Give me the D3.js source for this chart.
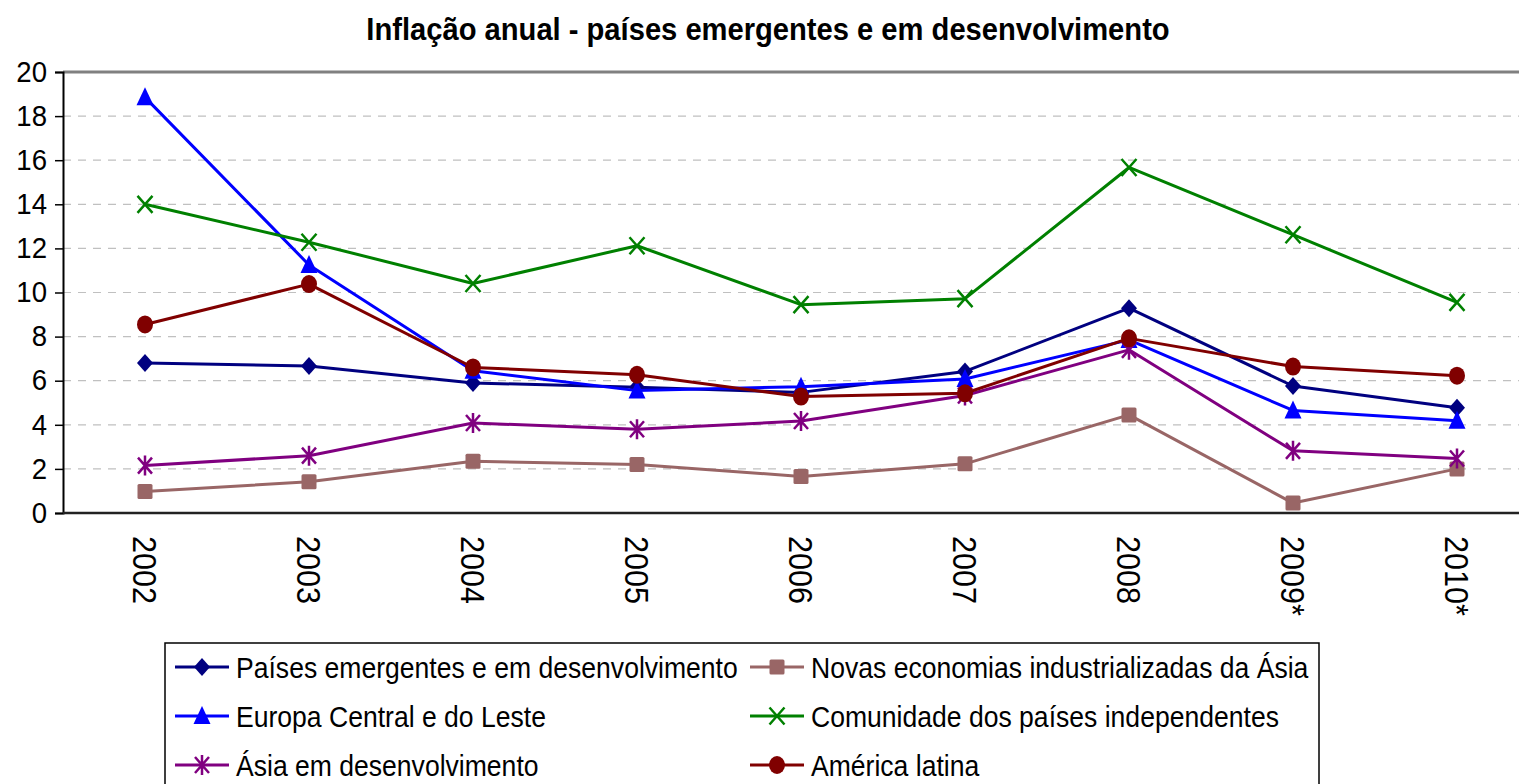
<!DOCTYPE html>
<html>
<head>
<meta charset="utf-8">
<script src="https://cdn.jsdelivr.net/npm/d3@7"></script>
<style>
  body { margin: 0; background: #fff; }
  text { font-family: "Liberation Sans", Arial, sans-serif; fill: #000; }
</style>
</head>
<body>
<svg id="chart" width="1519" height="784"></svg>
<script>
// data
var years = ['2002', '2003', '2004', '2005', '2006', '2007', '2008', '2009*', '2010*'];
var yTicks = [0, 2, 4, 6, 8, 10, 12, 14, 16, 18, 20];

var paisesEmergentes = [6.8, 6.67, 5.9, 5.7, 5.47, 6.42, 9.29, 5.76, 4.77];
var novasEconomias   = [0.97, 1.42, 2.35, 2.2, 1.66, 2.23, 4.45, 0.45, 2.0];
var europaCentral    = [18.85, 11.25, 6.45, 5.55, 5.73, 6.08, 7.85, 4.65, 4.18];
var comunidade       = [14.0, 12.28, 10.41, 12.12, 9.45, 9.72, 15.67, 12.62, 9.55];
var asiaDesenv       = [2.15, 2.6, 4.08, 3.8, 4.17, 5.33, 7.4, 2.82, 2.47];
var americaLatina    = [8.55, 10.38, 6.6, 6.27, 5.28, 5.43, 7.92, 6.64, 6.23];

var series = [
  {name: 'Países emergentes e em desenvolvimento', values: paisesEmergentes, color: '#000080', marker: 'diamond'},
  {name: 'Novas economias industrializadas da Ásia', values: novasEconomias, color: '#996666', marker: 'square'},
  {name: 'Europa Central e do Leste', values: europaCentral, color: '#0000ff', marker: 'triangle'},
  {name: 'Comunidade dos países independentes', values: comunidade, color: '#008000', marker: 'x'},
  {name: 'Ásia em desenvolvimento', values: asiaDesenv, color: '#800080', marker: 'star'},
  {name: 'América latina', values: americaLatina, color: '#800000', marker: 'circle'}
];

var svg = d3.select('#chart');
var plotLeft = 63, plotTop = 72, plotBottom = 513;

var x = d3.scaleBand().domain(years).range([plotLeft, plotLeft + 9 * 164]).padding(0);
var y = d3.scaleLinear().domain([0, 20]).range([plotBottom, plotTop]);
function cx(d, i) { return x(years[i]) + x.bandwidth() / 2; }

// squeeze text a bit, the original font is narrow
function squeeze(sel, k) {
  sel.each(function() {
    var w = this.getComputedTextLength();
    d3.select(this).attr('textLength', w * k).attr('lengthAdjust', 'spacingAndGlyphs');
  });
}

// title
svg.append('text')
  .attr('x', 768).attr('y', 40)
  .attr('text-anchor', 'middle')
  .style('font-size', '31px').style('font-weight', 'bold')
  .text('Inflação anual - países emergentes e em desenvolvimento')
  .call(squeeze, 0.94);

// gridlines
svg.append('g')
  .selectAll('line')
  .data(yTicks.filter(function(d) { return d > 0 && d < 20; }))
  .enter().append('line')
  .attr('x1', plotLeft).attr('x2', 1519)
  .attr('y1', function(d) { return y(d); }).attr('y2', function(d) { return y(d); })
  .attr('stroke', '#c0c0c0').attr('stroke-width', 1.2)
  .attr('stroke-dasharray', '8,7');

// top border
svg.append('line')
  .attr('x1', plotLeft).attr('x2', 1519).attr('y1', y(20)).attr('y2', y(20))
  .attr('stroke', '#808080').attr('stroke-width', 3);

// y axis
var yAxis = svg.append('g')
  .attr('transform', 'translate(' + plotLeft + ',0)')
  .call(d3.axisLeft(y).tickValues(yTicks).tickSize(8).tickPadding(8));
yAxis.select('.domain').attr('stroke', '#000').attr('stroke-width', 2);
yAxis.selectAll('.tick line').attr('stroke', '#000').attr('stroke-width', 1.5);
yAxis.selectAll('.tick text')
  .style('font-size', '29px').style('font-family', '"Liberation Sans", Arial, sans-serif')
  .attr('fill', '#000')
  .call(squeeze, 0.95);

// x baseline
svg.append('line')
  .attr('x1', plotLeft).attr('x2', 1519).attr('y1', plotBottom).attr('y2', plotBottom)
  .attr('stroke', '#222').attr('stroke-width', 2.5);

// x labels, rotated
svg.append('g')
  .selectAll('text')
  .data(years)
  .enter().append('text')
  .attr('transform', function(d) { return 'translate(' + (x(d) + x.bandwidth() / 2) + ',536) rotate(90)'; })
  .attr('dy', '0.35em')
  .style('font-size', '34px')
  .text(function(d) { return d; })
  .call(squeeze, 0.9);

// marker shapes
function drawMarker(g, type, color) {
  if (type === 'diamond') {
    g.append('path').attr('d', 'M0,-9L8,0L0,9L-8,0Z').attr('fill', color);
  } else if (type === 'square') {
    g.append('rect').attr('x', -7.5).attr('y', -7.5).attr('width', 15).attr('height', 15)
      .attr('rx', 1.5).attr('fill', color);
  } else if (type === 'triangle') {
    g.append('path').attr('d', 'M0,-10L8.5,8L-8.5,8Z').attr('fill', color);
  } else if (type === 'circle') {
    g.append('ellipse').attr('rx', 8).attr('ry', 9).attr('fill', color);
  } else if (type === 'x') {
    g.append('path').attr('d', 'M-7.5,-8.5L7.5,8.5M7.5,-8.5L-7.5,8.5')
      .attr('stroke', color).attr('stroke-width', 2.5).attr('fill', 'none');
  } else if (type === 'star') {
    g.append('path').attr('d', 'M-7,-8L7,8M7,-8L-7,8M0,-10L0,10')
      .attr('stroke', color).attr('stroke-width', 2.5).attr('fill', 'none');
  }
}

var line = d3.line()
  .x(cx)
  .y(function(d) { return y(d); });

series.forEach(function(s) {
  var g = svg.append('g');
  g.append('path')
    .datum(s.values)
    .attr('d', line)
    .attr('fill', 'none')
    .attr('stroke', s.color)
    .attr('stroke-width', 3)
    .attr('stroke-linejoin', 'round');
  g.selectAll('g.pt')
    .data(s.values)
    .enter().append('g')
    .attr('class', 'pt')
    .attr('transform', function(d, i) { return 'translate(' + cx(d, i) + ',' + y(d) + ')'; })
    .each(function() { drawMarker(d3.select(this), s.marker, s.color); });
});

// legend
var legend = svg.append('g');
legend.append('rect')
  .attr('x', 165).attr('y', 643).attr('width', 1154).attr('height', 200)
  .attr('fill', '#fff').attr('stroke', '#000').attr('stroke-width', 1.5);

var colX = [175, 750];
var rowY = [667, 716, 765];
series.forEach(function(s, i) {
  var lx = colX[i % 2], ly = rowY[Math.floor(i / 2)];
  var item = legend.append('g').attr('transform', 'translate(' + lx + ',' + ly + ')');
  item.append('line').attr('x1', 0).attr('x2', 54).attr('y1', 0).attr('y2', 0)
    .attr('stroke', s.color).attr('stroke-width', 3);
  var m = item.append('g').attr('transform', 'translate(27,0)');
  drawMarker(m, s.marker, s.color);
  item.append('text')
    .attr('x', 61).attr('dy', '0.36em')
    .style('font-size', '30px')
    .text(s.name)
    .call(squeeze, 0.885);
});
</script>
</body>
</html>
